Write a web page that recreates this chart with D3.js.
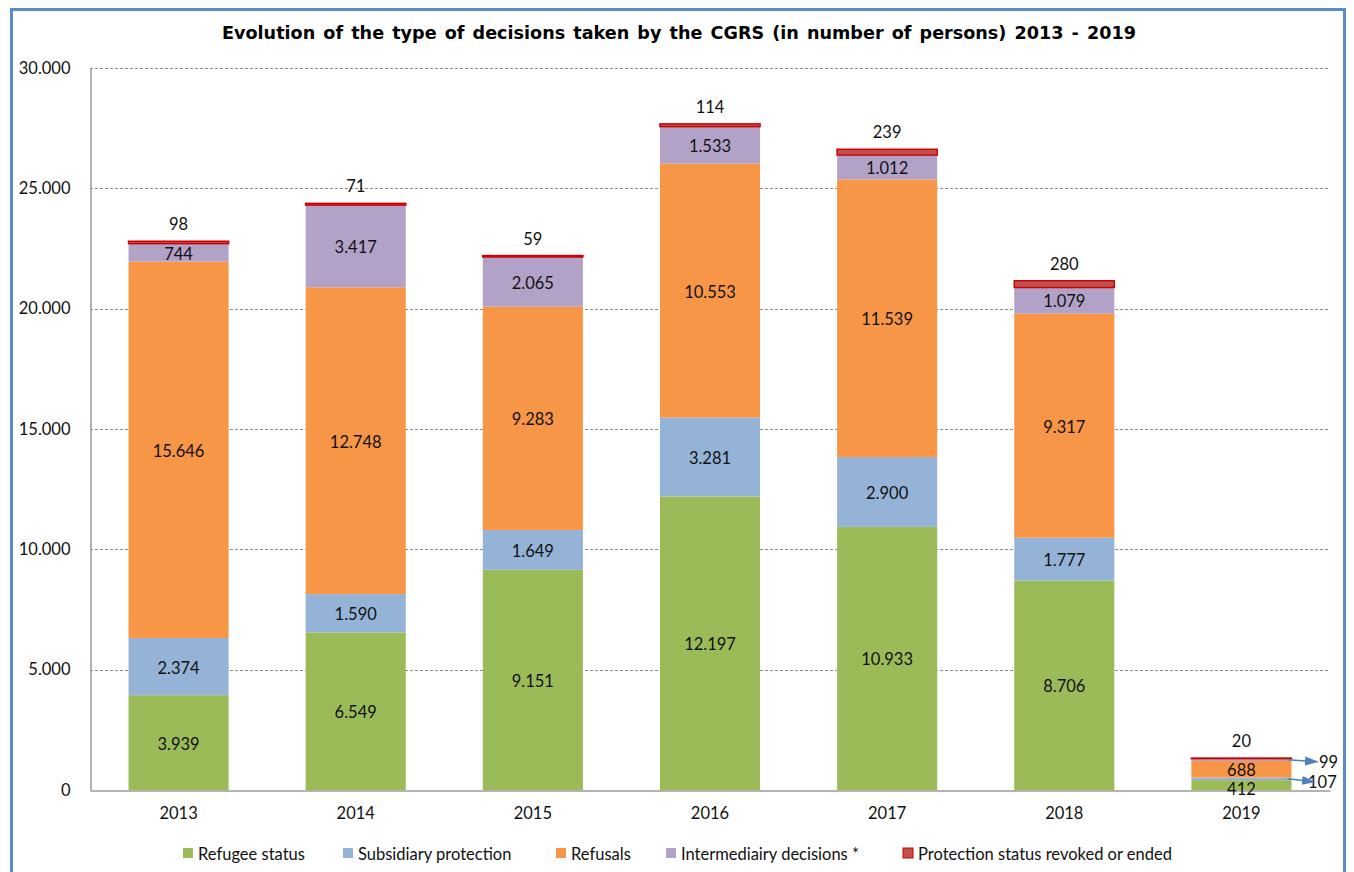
<!DOCTYPE html>
<html>
<head>
<meta charset="utf-8">
<script src="https://cdn.jsdelivr.net/npm/d3@7"></script>
<style>
  body { margin: 0; background: #fff; }
  svg { display: block; }
</style>
</head>
<body>
<div id="chart"></div>
<script>
// Chart data
var years = ["2013", "2014", "2015", "2016", "2017", "2018", "2019"];
var refugee = [3939, 6549, 9151, 12197, 10933, 8706, 412];
var subsidiary = [2374, 1590, 1649, 3281, 2900, 1777, 107];
var refusals = [15646, 12748, 9283, 10553, 11539, 9317, 688];
var intermediary = [744, 3417, 2065, 1533, 1012, 1079, 99];
var revoked = [98, 71, 59, 114, 239, 280, 20];
var seriesNames = ["Refugee status", "Subsidiary protection", "Refusals", "Intermediairy decisions *", "Protection status revoked or ended"];
var yTicks = [0, 5000, 10000, 15000, 20000, 25000, 30000];

var COLORS = ["#9BBB59", "#95B3D7", "#F79646", "#B2A2C7", "#C0504D"];
var W = 1354, H = 872;
var M = {left: 90, right: 1330, top: 68, bottom: 790};
var LEGEND_X = [183, 343, 556, 666, 903];
var LABEL_FONT = "Lato, 'Open Sans', sans-serif";
var FS = 16.5;

var fmt = d3.formatLocale({decimal: ",", thousands: ".", grouping: [3], currency: ["", ""]}).format(",d");

var svg = d3.select("#chart").append("svg").attr("width", W).attr("height", H);

// Blue frame round the chart
svg.append("path")
	.attr("d", "M11.5," + H + " L11.5,9.5 L1344.5,9.5 L1344.5," + H)
	.attr("fill", "none")
	.attr("stroke", "#5B8BCB")
	.attr("stroke-width", 3);

svg.append("text")
	.attr("x", 679).attr("y", 39)
	.attr("text-anchor", "middle")
	.attr("font-family", "'DejaVu Sans', Verdana, sans-serif")
	.attr("font-weight", "bold")
	.attr("font-size", 17.6)
	.attr("word-spacing", 2)
	.text("Evolution of the type of decisions taken by the CGRS (in number of persons) 2013 - 2019");

var x = d3.scaleBand().domain(years).range([M.left, M.right]).paddingInner(0.435).paddingOuter(0.2175);
var y = d3.scaleLinear().domain([0, 30000]).range([M.bottom, M.top]);

// gridlines
svg.append("g").selectAll("line")
	.data(yTicks.filter(function(d) { return d > 0; }))
	.enter().append("line")
	.attr("x1", M.left).attr("x2", M.right)
	.attr("y1", function(d) { return Math.round(y(d)) + 0.5; })
	.attr("y2", function(d) { return Math.round(y(d)) + 0.5; })
	.attr("stroke", "#8c8c8c")
	.attr("stroke-dasharray", "3,2");

// y axis
var yAxis = svg.append("g")
	.attr("transform", "translate(" + (M.left + 0.5) + ",0)")
	.call(d3.axisLeft(y).tickValues(yTicks).tickSize(0).tickPadding(20).tickFormat(function(d) { return fmt(d); }));
yAxis.select(".domain").attr("stroke", "#9a9a9a").attr("stroke-width", 1.5);
yAxis.selectAll("text").attr("font-family", LABEL_FONT).attr("font-size", FS).attr("fill", "#111");

// x axis
var xAxis = svg.append("g")
	.attr("transform", "translate(0," + (M.bottom + 0.5) + ")")
	.call(d3.axisBottom(x).tickSize(0).tickPadding(17));
xAxis.select(".domain").attr("stroke", "#9a9a9a").attr("stroke-width", 1.5);
xAxis.selectAll("text").attr("font-family", LABEL_FONT).attr("font-size", FS).attr("fill", "#111");

// Stack the series
var rows = years.map(function(yr, i) {
	return {year: yr, s0: refugee[i], s1: subsidiary[i], s2: refusals[i], s3: intermediary[i], s4: revoked[i]};
});
var keys = ["s0", "s1", "s2", "s3", "s4"];
var stacked = d3.stack().keys(keys)(rows);

var layers = svg.append("g").selectAll("g")
	.data(stacked).enter().append("g")
	.attr("fill", function(d, i) { return COLORS[i]; });

layers.selectAll("rect")
	.data(function(d) { return d; })
	.enter().append("rect")
	.attr("x", function(d) { return x(d.data.year); })
	.attr("width", x.bandwidth())
	.attr("y", function(d) { return y(d[1]); })
	.attr("height", function(d) { return y(d[0]) - y(d[1]); });

// red outline on the top segment
layers.filter(function(d, i) { return i == 4; }).selectAll("rect")
	.attr("stroke", "#D00000")
	.attr("stroke-width", 1.5);

// Segment labels
var labelG = svg.append("g")
	.attr("font-family", LABEL_FONT)
	.attr("font-size", FS)
	.attr("fill", "#111")
	.attr("text-anchor", "middle");

stacked.forEach(function(layer, li) {
	layer.forEach(function(d, i) {
		var cx = x(d.data.year) + x.bandwidth() / 2;
		var val = d[1] - d[0];
		var small = (d.data.year == "2019");
		if (li == 4) {
			labelG.append("text").attr("x", cx).attr("y", y(d[1]) - 11).text(fmt(val));
		} else if (small && (li == 1 || li == 3)) {
			return; // drawn with arrows below
		} else {
			// the 2019 label sits a bit lower, just like the original
			var off = (small && li == 0) ? 10 : 7;
			labelG.append("text").attr("x", cx).attr("y", (y(d[0]) + y(d[1])) / 2 + off).text(fmt(val));
		}
	});
});

// arrows for the thin 2019 segments
var defs = svg.append("defs");
defs.append("marker")
	.attr("id", "arrow")
	.attr("viewBox", "0 0 12 8")
	.attr("refX", 11).attr("refY", 4)
	.attr("markerWidth", 8.5).attr("markerHeight", 5.7)
	.attr("orient", "auto")
	.append("path").attr("d", "M0,0 L12,4 L0,8 z").attr("fill", "#4F81BD");

var last = years.length - 1;
var xr = x(years[last]) + x.bandwidth();
[{li: 3, dx: 26, dy: 2, tx: 1319}, {li: 1, dx: 23, dy: 3, tx: 1308}].forEach(function(a) {
	var d = stacked[a.li][last];
	var my = (y(d[0]) + y(d[1])) / 2;
	svg.append("line")
		.attr("x1", xr - 4).attr("y1", my)
		.attr("x2", xr + a.dx).attr("y2", my + a.dy)
		.attr("stroke", "#4F81BD").attr("stroke-width", 1.6)
		.attr("marker-end", "url(#arrow)");
	labelG.append("text")
		.attr("x", a.tx).attr("y", my + a.dy + 6)
		.attr("text-anchor", "start")
		.text(fmt(d[1] - d[0]));
});

// Legend
var legend = svg.append("g").attr("font-family", LABEL_FONT).attr("font-size", FS).attr("fill", "#111");
seriesNames.forEach(function(name, i) {
	var lx = LEGEND_X[i];
	legend.append("rect")
		.attr("x", lx).attr("y", 848).attr("width", 10).attr("height", 10)
		.attr("fill", COLORS[i])
		.attr("stroke", i == 4 ? "#D00000" : "none");
	legend.append("text").attr("x", lx + 15).attr("y", 860).text(name);
});
</script>
</body>
</html>
